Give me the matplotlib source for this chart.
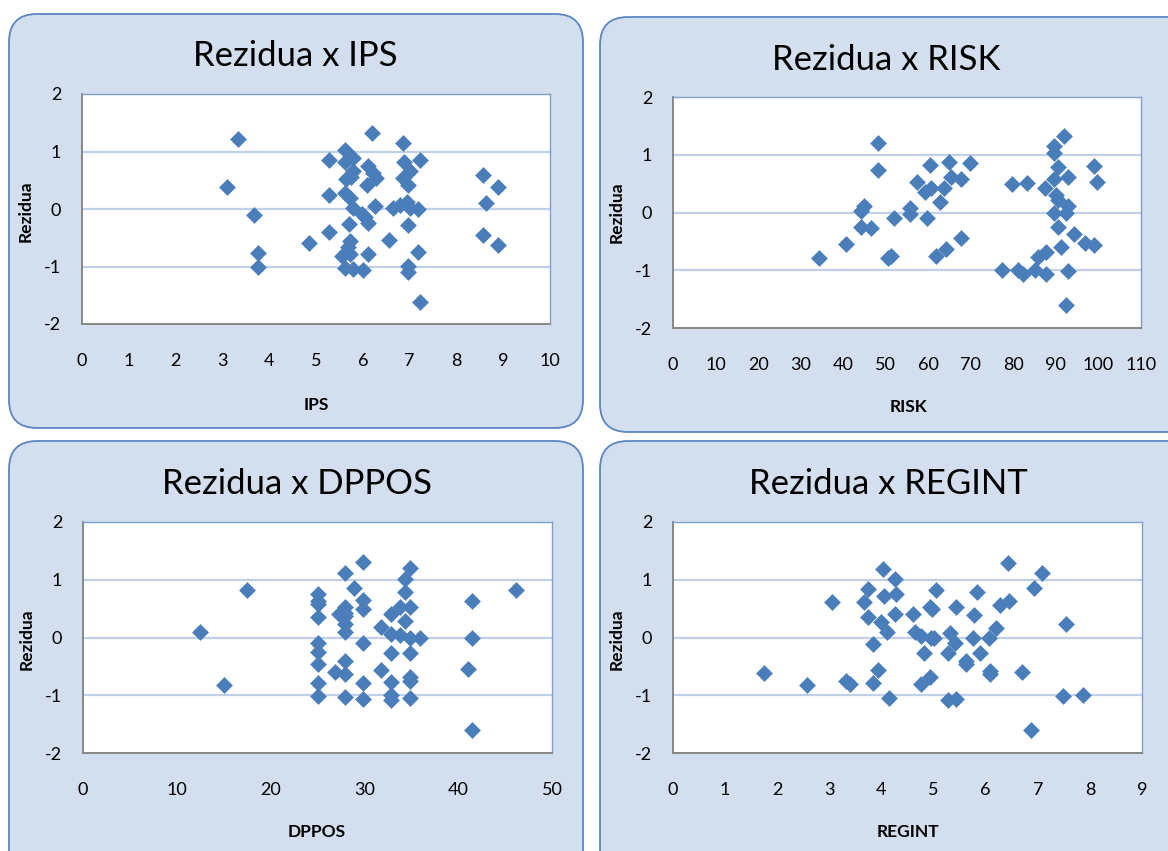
import matplotlib
matplotlib.use("Agg")
import matplotlib.pyplot as plt
from matplotlib.patches import FancyBboxPatch

plt.rcParams['font.family'] = ['Lato', 'DejaVu Sans']
plt.rcParams['axes.unicode_minus'] = False

# ---------------- data ----------------
ips_x = [3.34, 3.10, 3.68, 3.77, 3.77, 4.84, 5.28, 5.28, 5.28, 5.61, 5.80, 5.61, 5.80, 5.64, 5.75,
         5.61, 5.72, 5.80, 5.98, 6.05, 6.12, 5.71, 5.72, 5.68, 5.55, 5.72, 5.62, 5.80, 6.00, 6.12,
         6.19, 6.12, 6.21, 6.28, 6.08, 6.26, 6.57, 6.65, 6.85, 6.87, 7.01, 6.85, 6.97, 7.22, 6.80,
         6.94, 7.01, 7.19, 6.97, 7.18, 6.97, 6.97, 7.22, 8.56, 8.89, 8.64, 8.56, 8.89]
ips_y = [1.21, 0.38, -0.11, -0.77, -1.01, -0.59, 0.85, 0.24, -0.40, 1.03, 0.88, 0.81, 0.66, 0.52, 0.55,
         0.28, 0.19, 0.01, -0.08, -0.14, -0.25, -0.26, -0.55, -0.66, -0.81, -0.78, -1.02, -1.05, -1.06, -0.79,
         1.32, 0.75, 0.63, 0.54, 0.42, 0.06, -0.54, 0.01, 1.14, 0.81, 0.66, 0.54, 0.41, 0.85, 0.07,
         0.13, 0.01, 0.0, -0.28, -0.75, -0.99, -1.09, -1.62, 0.59, 0.39, 0.10, -0.45, -0.62]

risk_x = [34.4, 40.6, 44.3, 44.3, 44.9, 46.6, 48.2, 48.2, 50.6, 51.2, 52.0, 55.7, 55.7, 57.4, 59.8,
          60.5, 59.3, 60.6, 62.7, 63.6, 61.8, 64.2, 64.9, 65.3, 67.8, 67.8, 69.8, 77.4, 79.6, 81.1,
          82.2, 83.2, 85.2, 85.7, 87.6, 87.6, 87.5, 89.5, 89.6, 92.0, 89.5, 90.4, 92.8, 90.0, 90.4,
          89.5, 92.4, 92.8, 90.4, 91.1, 94.2, 96.8, 99.0, 92.8, 92.4, 99.0, 99.7]
risk_y = [-0.79, -0.55, -0.25, 0.02, 0.11, -0.27, 1.20, 0.74, -0.79, -0.76, -0.10, 0.07, -0.02, 0.53, -0.09,
          0.83, 0.36, 0.42, 0.19, 0.42, -0.75, -0.63, 0.88, 0.62, 0.58, -0.45, 0.85, -1.0, 0.49, -1.0,
          -1.07, 0.51, -1.0, -0.77, -1.06, -0.69, 0.42, 1.15, 1.03, 1.32, 0.58, 0.79, 0.62, 0.30, 0.22,
          0.0, 0.0, 0.12, -0.25, -0.60, -0.38, -0.53, -0.57, -1.01, -1.60, 0.81, 0.53]

dppos_x = [12.5, 15.0, 17.5, 25, 25, 25, 25, 25, 25, 25, 25, 25, 26.9,
           27.9, 27.9, 27.9, 27.9, 27.9, 27.9, 27.9, 27.9, 27.9, 27.3, 28.9,
           29.9, 29.9, 29.9, 29.9, 29.9, 29.9, 31.8, 31.8,
           32.8, 32.8, 32.8, 32.8, 32.8, 32.8, 33.8, 33.8, 34.3, 34.3, 34.3,
           34.9, 34.9, 34.9, 34.9, 34.9, 34.9, 34.9, 35.9, 41.5, 41.5, 41.0, 41.5, 46.2]
dppos_y = [0.09, -0.83, 0.83, 0.75, 0.64, 0.58, 0.36, -0.10, -0.25, -0.46, -0.78, -1.01, -0.60,
           1.12, 0.52, 0.43, 0.38, 0.23, 0.09, -0.40, -0.64, -1.03, 0.40, 0.85,
           1.30, 0.65, 0.49, -0.10, -0.78, -1.07, 0.19, -0.56,
           0.40, 0.06, -0.27, -0.77, -1.00, -1.08, 0.52, 0.04, 0.78, 0.29, 1.01,
           1.20, 0.52, 0.0, -0.27, -0.69, -0.75, -1.04, 0.0, 0.64, -0.01, -0.55, -1.60, 0.83]

regint_x = [1.74, 2.57, 3.06, 3.32, 3.40, 3.67, 3.74, 3.74, 3.83, 3.83, 3.94, 3.99, 4.03, 4.05, 4.10,
            4.14, 4.26, 4.28, 4.26, 4.60, 4.64, 4.76, 4.81, 4.76, 4.94, 4.94, 4.97, 5.05, 4.95, 5.01,
            5.28, 5.31, 5.28, 5.43, 5.43, 5.42, 5.62, 5.63, 5.76, 5.78, 5.84, 5.90, 6.07, 6.08, 6.08,
            6.19, 6.28, 6.44, 6.43, 6.69, 6.87, 6.93, 7.08, 7.49, 7.55, 7.87]
regint_y = [-0.62, -0.82, 0.62, -0.75, -0.80, 0.62, 0.84, 0.36, -0.12, -0.78, -0.56, 0.26, 1.18, 0.72, 0.09,
            -1.04, 1.01, 0.75, 0.40, 0.40, 0.10, 0.03, -0.26, -0.80, -0.69, 0.53, 0.50, 0.82, 0.0, 0.0,
            -0.26, 0.07, -1.08, -1.07, 0.53, -0.09, -0.40, -0.46, 0.0, 0.39, 0.79, -0.27, 0.0, -0.58, -0.63,
            0.17, 0.57, 0.63, 1.29, -0.59, -1.60, 0.85, 1.12, -1.01, 0.23, -1.00]

titles = ["Rezidua x IPS", "Rezidua x RISK", "Rezidua x DPPOS", "Rezidua x REGINT"]
xlabels = ["IPS", "RISK", "DPPOS", "REGINT"]
ylabel = "Rezidua"
x_limits = [(0, 10), (0, 110), (0, 50), (0, 9)]
x_steps = [1, 10, 10, 1]
y_ticks = [-2, -1, 0, 1, 2]

# ---------------- layout ----------------
W, H = 1168, 851
fig = plt.figure(figsize=(W / 100, H / 100), dpi=100)
fig.patch.set_facecolor('white')

def fx(x):
    return x / W

def fy(y):
    return 1 - y / H

bg = fig.add_axes([0, 0, 1, 1], zorder=0)
bg.set_xlim(0, W)
bg.set_ylim(H, 0)
bg.axis('off')

boxes = [(9, 14, 574, 414), (600, 17, 600, 415), (9, 441, 574, 440), (600, 441, 600, 440)]
for (bx, by, bw, bh) in boxes:
    bg.add_patch(FancyBboxPatch((bx, by), bw, bh,
                                boxstyle="round,pad=0,rounding_size=28",
                                fc='#D3DFEE', ec='#5A86C3', lw=1.3))

# plot area pixel rects: left, top, right, bottom
rects = [(82, 94, 550, 324), (673, 97, 1141, 328), (83, 522, 552, 753), (673, 522, 1142, 753)]
title_pos = [(295, 56), (886, 60), (297, 484), (888, 484)]
xlabel_pos = [(316, 405), (908, 407), (317, 832), (908, 832)]
ylabel_pos = [(26, 211), (617, 212), (27, 639), (617, 639)]

data = [(ips_x, ips_y), (risk_x, risk_y), (dppos_x, dppos_y), (regint_x, regint_y)]

for i in range(4):
    l, t, r, b = rects[i]
    ax = fig.add_axes([fx(l), fy(b), (r - l) / W, (b - t) / H], zorder=2)
    ax.set_facecolor('white')
    xs, ys = data[i]
    ax.plot(xs, ys, linestyle='none', marker='D', markersize=8.2,
            markerfacecolor='#4A7EBB', markeredgecolor='#4A7EBB', markeredgewidth=0.4,
            zorder=3, clip_on=False)
    lo, hi = x_limits[i]
    ax.set_xlim(lo, hi)
    ax.set_ylim(-2, 2)
    ax.set_xticks(list(range(lo, hi + 1, x_steps[i])))
    ax.set_yticks(y_ticks)
    for gy in (-1, 0, 1):
        ax.axhline(gy, color='#BFD0E8', lw=1.6, zorder=1)
    ax.tick_params(axis='x', length=0, pad=21, labelsize=13, colors='black')
    ax.tick_params(axis='y', length=0, pad=15, labelsize=13, colors='black')
    for s in ('left', 'bottom'):
        ax.spines[s].set_color('#878787')
        ax.spines[s].set_linewidth(1.4)
    for s in ('top', 'right'):
        ax.spines[s].set_color('#7F9FD0')
        ax.spines[s].set_linewidth(1.0)

    tx, ty = title_pos[i]
    fig.text(fx(tx), fy(ty), titles[i], ha='center', va='center', fontsize=25, color='black')
    lx, ly = xlabel_pos[i]
    fig.text(fx(lx), fy(ly), xlabels[i], ha='center', va='center', fontsize=12.5,
             fontweight='bold', color='black')
    yx, yy = ylabel_pos[i]
    fig.text(fx(yx), fy(yy), ylabel, ha='center', va='center', fontsize=12.5,
             fontweight='bold', rotation=90, color='black')

fig.savefig('out.png', dpi=100, facecolor='white')
